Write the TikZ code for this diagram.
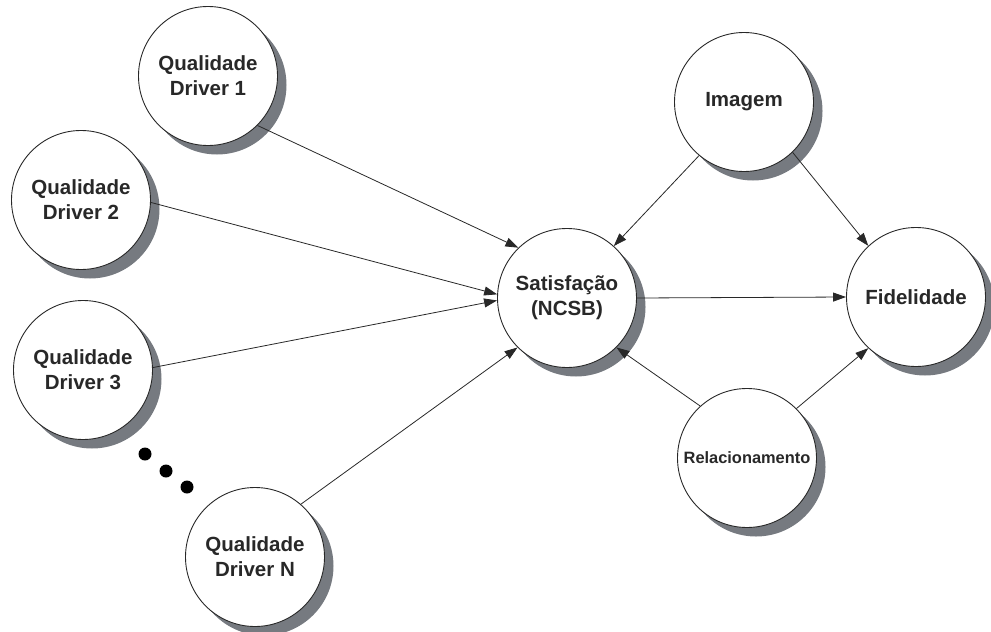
\documentclass[tikz,border=0pt]{standalone}
\usepackage{fontspec}
\setmainfont{Liberation Sans}
\usetikzlibrary{arrows.meta,shadows}
\definecolor{shadowgray}{RGB}{118,122,128}
\definecolor{inkgray}{RGB}{40,40,40}
\begin{document}
\begin{tikzpicture}[x=1pt,y=-1pt,
  construct/.style={circle, draw=inkgray, line width=0.9pt, fill=white,
    minimum size=139pt, inner sep=0pt, align=center,
    text=inkgray, font=\bfseries\fontsize{20.5}{25}\selectfont,
    drop shadow={shadow xshift=9pt, shadow yshift=-9pt, fill=shadowgray, opacity=1}},
  path/.style={draw=inkgray, line width=0.8pt,
    -{Triangle[length=13pt,width=9pt]}},
  dot/.style={circle, fill=black, inner sep=0pt, minimum size=13pt}]
  \useasboundingbox (0,0) rectangle (991,632);

  % latent constructs
  \node[construct] (d1)  at (208,76)  {Qualidade\\Driver 1};
  \node[construct] (d2)  at (81,200)  {Qualidade\\Driver 2};
  \node[construct] (d3)  at (83,370)  {Qualidade\\Driver 3};
  \node[construct] (dn)  at (255,557) {Qualidade\\Driver N};
  \node[construct] (sat) at (567,298) {Satisfação\\(NCSB)};
  \node[construct] (img) at (744,102) {Imagem};
  \node[construct] (fid) at (916,297) {Fidelidade};
  \node[construct, font=\bfseries\fontsize{16.4}{20}\selectfont] (rel) at (747,458) {Relacionamento};

  % ellipsis between driver 3 and driver N
  \node[dot] (e1) at (145,454) {};
  \node[dot] (e2) at (166,471) {};
  \node[dot] (e3) at (187,487) {};

  % paths of the model
  \draw[path] (d1.-45)  -- (sat.134);
  \draw[path] (d2.-2)   -- (sat.177);
  \draw[path] (d3.2)    -- (sat.182);
  \draw[path] (dn.49)   -- (sat.225);
  \draw[path] (img.230) -- (sat.48);
  \draw[path] (img.314) -- (fid.133);
  \draw[path] (sat.0)   -- (fid.180);
  \draw[path] (rel.132) -- (sat.315);
  \draw[path] (rel.45)  -- (fid.227);
\end{tikzpicture}
\end{document}
